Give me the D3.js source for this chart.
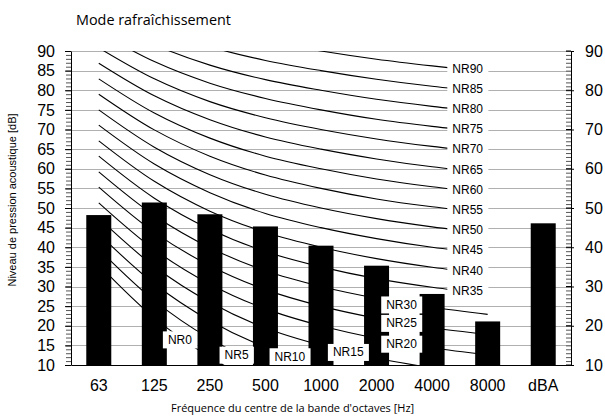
<!DOCTYPE html>
<html>
<head>
<meta charset="utf-8">
<script src="https://cdn.jsdelivr.net/npm/d3@7"></script>
<style>
  body { margin: 0; background: #fff; }
  svg { display: block; }
</style>
</head>
<body>
<svg id="chart" width="605" height="418"></svg>
<script>
// Measured sound pressure level per octave band (cooling mode)
const bands = ["63", "125", "250", "500", "1000", "2000", "4000", "8000", "dBA"];
const levels = [48.2, 51.4, 48.4, 45.3, 40.4, 35.3, 28.1, 21.1, 46.1];

// Noise Rating reference curves, level per octave band
const octaveBands = ["63", "125", "250", "500", "1000", "2000", "4000", "8000"];
const nrRatings = [0, 5, 10, 15, 20, 25, 30, 35, 40, 45, 50, 55, 60, 65, 70, 75, 80, 85, 90];
const nrLevels = [
  [35.5, 22.0, 12.0, 4.8, 0.0, -3.5, -6.1, -8.0],
  [39.5, 26.4, 16.7, 9.7, 5.0, 1.6, -1.0, -2.9],
  [43.4, 30.7, 21.3, 14.5, 10.0, 6.7, 4.2, 2.3],
  [47.4, 35.1, 26.0, 19.4, 15.0, 11.7, 9.3, 7.5],
  [51.3, 39.4, 30.6, 24.3, 20.0, 16.8, 14.4, 12.6],
  [55.3, 43.8, 35.3, 29.2, 25.0, 21.9, 19.5, 17.8],
  [59.2, 48.1, 39.9, 34.0, 30.0, 27.0, 24.7, 22.9],
  [63.2, 52.5, 44.6, 38.9, 35.0, 32.0, 29.8, 28.1],
  [67.1, 56.8, 49.2, 43.8, 40.0, 37.1, 34.9, 33.2],
  [71.1, 61.2, 53.9, 48.6, 45.0, 42.2, 40.0, 38.4],
  [75.0, 65.5, 58.5, 53.5, 50.0, 47.3, 45.2, 43.5],
  [79.0, 69.9, 63.2, 58.4, 55.0, 52.3, 50.3, 48.7],
  [82.9, 74.2, 67.8, 63.2, 60.0, 57.4, 55.4, 53.8],
  [86.9, 78.6, 72.5, 68.1, 65.0, 62.5, 60.5, 59.0],
  [90.8, 82.9, 77.1, 73.0, 70.0, 67.6, 65.7, 64.1],
  [94.8, 87.3, 81.8, 77.9, 75.0, 72.6, 70.8, 69.3],
  [98.7, 91.6, 86.4, 82.7, 80.0, 77.7, 75.9, 74.4],
  [102.7, 96.0, 91.1, 87.6, 85.0, 82.8, 81.0, 79.6],
  [106.6, 100.3, 95.7, 92.5, 90.0, 87.9, 86.2, 84.7]
];

// Axis tick labels
const leftTicks = [10, 15, 20, 25, 30, 35, 40, 45, 50, 55, 60, 65, 70, 75, 80, 85, 90];
const rightTicks = [10, 20, 30, 40, 50, 60, 70, 80, 90];

const title = "Mode rafraîchissement";
const yTitle = "Niveau de pression acoustique [dB]";
const xTitle = "Fréquence du centre de la bande d'octaves [Hz]";

// ---------------------------------------------------------------
const svg = d3.select("#chart");
const plot = { left: 71, right: 571, top: 51, bottom: 365 };

const x = d3.scaleBand()
  .domain(bands)
  .range([plot.left, plot.right])
  .paddingInner(0.55)
  .paddingOuter(0.275);
const y = d3.scaleLinear().domain([10, 90]).range([plot.bottom, plot.top]);
const cx = b => x(b) + x.bandwidth() / 2;

const sans = "'Liberation Sans', Arial, sans-serif";
const soft = "'Open Sans', 'Noto Sans', sans-serif";

svg.append("defs").append("clipPath").attr("id", "plot-clip")
  .append("rect")
  .attr("x", plot.left).attr("y", plot.top)
  .attr("width", plot.right - plot.left).attr("height", plot.bottom - plot.top);

// Horizontal gridlines
svg.append("g").selectAll("line")
  .data(leftTicks.filter(v => v > 10))
  .join("line")
  .attr("x1", plot.left).attr("x2", plot.right)
  .attr("y1", d => Math.round(y(d)) + 0.5).attr("y2", d => Math.round(y(d)) + 0.5)
  .attr("stroke", "#b0b0b0").attr("stroke-width", 1);

// NR curves
const nrLine = d3.line()
  .x((d, i) => cx(octaveBands[i]))
  .y(d => y(d))
  .curve(d3.curveCatmullRom);

svg.append("g").attr("clip-path", "url(#plot-clip)")
  .selectAll("path")
  .data(nrLevels)
  .join("path")
  .attr("d", nrLine)
  .attr("fill", "none")
  .attr("stroke", "#000")
  .attr("stroke-width", 1.1);

// Bars
svg.append("g").selectAll("rect")
  .data(bands.map((b, i) => ({ band: b, value: levels[i] })))
  .join("rect")
  .attr("x", d => x(d.band))
  .attr("y", d => y(d.value))
  .attr("width", x.bandwidth())
  .attr("height", d => y(10) - y(d.value))
  .attr("fill", "#000");

// NR labels: upper curves labelled near their right end,
// lower curves labelled in the free space under the bars
const labelFrac = 0.64;
const lowAnchors = {
  0: [1.46, 16.4], 5: [2.48, 12.5], 10: [3.44, 12.1], 15: [4.49, 13.2],
  20: [5.45, 15.3], 25: [5.45, 20.6], 30: [5.45, 25.3]
};
const step = x.step();
const idxToPx = t => cx(bands[0]) + t * step;

const labelData = nrRatings.map((n, k) => {
  if (lowAnchors[n]) {
    const [t, v] = lowAnchors[n];
    return { text: "NR" + n, px: idxToPx(t), py: y(v) };
  }
  const row = nrLevels[k];
  const v = row[6] + (row[7] - row[6]) * labelFrac;
  return { text: "NR" + n, px: idxToPx(6 + labelFrac), py: y(v) - 1 };
});

const lg = svg.append("g");
labelData.forEach(d => {
  const g = lg.append("g");
  const r = g.append("rect").attr("fill", "#fff");
  const t = g.append("text")
    .attr("x", d.px).attr("y", d.py)
    .attr("text-anchor", "middle")
    .attr("dominant-baseline", "central")
    .attr("font-family", sans).attr("font-size", 12)
    .attr("fill", "#000")
    .text(d.text);
  const bb = t.node().getBBox();
  r.attr("x", bb.x - 5).attr("y", d.py - 8.5)
    .attr("width", bb.width + 10).attr("height", 17);
});

// Left axis: every unit as a small tick, labels every 5
svg.append("g")
  .attr("transform", `translate(${plot.left},0)`)
  .call(d3.axisLeft(y).tickValues(d3.range(10, 91, 1)).tickSize(5).tickFormat(""))
  .call(g => g.select(".domain").remove())
  .call(g => g.selectAll("line").attr("stroke", "#555"));
svg.append("g")
  .attr("transform", `translate(${plot.left},0)`)
  .call(d3.axisLeft(y).tickValues(leftTicks).tickSizeInner(6).tickSizeOuter(0).tickPadding(10))
  .call(g => g.selectAll("text").attr("font-family", sans).attr("font-size", 16).attr("fill", "#000"))
  .call(g => g.selectAll("line, path").attr("stroke", "#000"));

// Right axis: minor ticks inside, labels every 10
svg.append("g")
  .attr("transform", `translate(${plot.right},0)`)
  .call(d3.axisRight(y).tickValues(d3.range(10, 91, 1)).tickSize(-5).tickFormat(""))
  .call(g => g.select(".domain").remove())
  .call(g => g.selectAll("line").attr("stroke", "#555"));
svg.append("g")
  .attr("transform", `translate(${plot.right},0)`)
  .call(d3.axisRight(y).tickValues(rightTicks).tickSizeInner(3).tickSizeOuter(0).tickPadding(11))
  .call(g => g.selectAll("text").attr("font-family", sans).attr("font-size", 16).attr("fill", "#000"))
  .call(g => g.selectAll("line, path").attr("stroke", "#000"));
svg.append("g")
  .attr("transform", `translate(${plot.right},0)`)
  .selectAll("line").data(rightTicks).join("line")
  .attr("x1", -5).attr("x2", 0)
  .attr("y1", d => y(d)).attr("y2", d => y(d))
  .attr("stroke", "#000");

// Bottom axis
svg.append("g")
  .attr("transform", `translate(0,${plot.bottom})`)
  .call(d3.axisBottom(x).tickSize(0).tickPadding(15))
  .call(g => g.selectAll("text").attr("font-family", sans).attr("font-size", 16).attr("fill", "#000"))
  .call(g => g.select(".domain").attr("stroke", "#000"));

// Titles
svg.append("text")
  .attr("x", 76).attr("y", 25)
  .attr("font-family", soft).attr("font-size", 14.4)
  .attr("fill", "#000")
  .text(title);

svg.append("text")
  .attr("transform", `translate(16,${(plot.top + plot.bottom) / 2 - 8}) rotate(-90)`)
  .attr("text-anchor", "middle")
  .attr("font-family", sans).attr("font-size", 11)
  .attr("fill", "#000")
  .text(yTitle);

svg.append("text")
  .attr("x", 171).attr("y", 412)
  .attr("font-family", soft).attr("font-size", 11)
  .attr("fill", "#000")
  .text(xTitle);
</script>
</body>
</html>
